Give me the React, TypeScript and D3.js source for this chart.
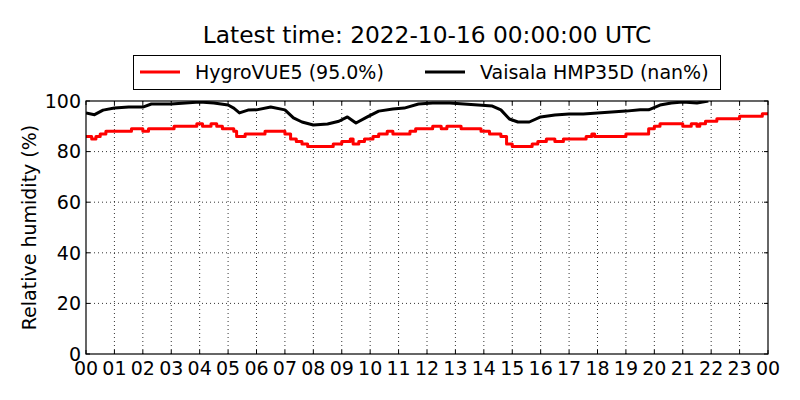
import {useEffect, useRef} from 'react';
import * as d3 from 'd3';

// hours of day and relative humidity (%)
const hygroHours = [0, 0.2, 0.35, 0.5, 0.7, 1.3, 1.6, 2.0, 2.2, 3.1, 3.9, 4.1, 4.4, 4.6, 4.8, 5.2, 5.3, 5.6, 6.3, 7.0, 7.2, 7.4, 7.6, 7.8, 8.7, 9.0, 9.3, 9.4, 9.6, 9.8, 10.1, 10.3, 10.6, 10.8, 11.4, 11.6, 12.2, 12.5, 12.7, 13.2, 13.9, 14.2, 14.6, 14.8, 15.0, 15.7, 15.9, 16.2, 16.5, 16.8, 17.6, 17.8, 17.9, 19.0, 19.6, 19.8, 20.0, 20.2, 21.0, 21.3, 21.5, 21.6, 21.8, 22.2, 23.0, 23.8, 24.0];
const hygroValues = [86, 85, 86, 87, 88, 88, 89, 88, 89, 90, 91, 90, 91, 90, 89, 88, 86, 87, 88, 87, 85, 84, 83, 82, 83, 84, 85, 83, 84, 85, 86, 87, 88, 87, 88, 89, 90, 89, 90, 89, 88, 87, 86, 83, 82, 83, 84, 85, 84, 85, 86, 87, 86, 87, 87, 89, 90, 91, 90, 91, 90, 91, 92, 93, 94, 95, 95];

const vaisalaHours = [0, 0.3, 0.6, 1.0, 1.5, 2.0, 2.3, 3.0, 3.5, 4.0, 4.5, 5.0, 5.2, 5.4, 5.7, 6.0, 6.5, 7.0, 7.3, 7.6, 8.0, 8.5, 8.9, 9.2, 9.5, 9.9, 10.3, 10.8, 11.2, 11.7, 12.2, 12.8, 13.3, 13.8, 14.3, 14.6, 14.9, 15.2, 15.6, 16.0, 16.5, 17.0, 17.5, 18.0, 18.5, 19.0, 19.5, 19.8, 20.2, 20.6, 21.0, 21.5, 21.9];
const vaisalaValues = [95.3, 94.6, 96.4, 97.2, 97.6, 97.6, 98.8, 98.8, 99.2, 99.6, 99.2, 98.4, 97.2, 95.3, 96.4, 96.5, 97.6, 96.5, 93.3, 91.7, 90.5, 90.9, 92.0, 93.7, 91.3, 93.7, 96.0, 96.8, 97.2, 98.8, 99.2, 99.2, 98.8, 98.4, 98.0, 96.5, 92.9, 91.7, 91.7, 93.7, 94.5, 94.9, 94.9, 95.3, 95.7, 96.0, 96.5, 96.5, 98.4, 99.2, 99.6, 99.2, 100];

const hourTicks = d3.range(0, 25);
const rhTicks = [0, 20, 40, 60, 80, 100];
const legendLabels = ['HygroVUE5 (95.0%)', 'Vaisala HMP35D (nan%)'];
const title = 'Latest time: 2022-10-16 00:00:00 UTC';

// layout
const width = 800;
const height = 400;
const left = 86;
const right = 768;
const top = 101;
const bottom = 354;
const lineWidth = 3;
const font = 'DejaVu Sans, sans-serif';

export default function App() {
  const ref = useRef<SVGSVGElement>(null);
  useEffect(() => {
    if (!ref.current) return;
    const svg = d3.select(ref.current);
    svg.selectAll('*').remove();

    const x = d3.scaleLinear().domain([0, 24]).range([left, right]);
    const y = d3.scaleLinear().domain([0, 100]).range([bottom, top]);

    // title
    svg.append('text')
      .attr('x', (left + right) / 2)
      .attr('y', 43)
      .attr('text-anchor', 'middle')
      .style('font-family', font)
      .style('font-size', '23.3px')
      .text(title);

    // grid
    const grid = svg.append('g')
      .attr('stroke', '#000')
      .attr('stroke-width', 0.8)
      .attr('stroke-dasharray', '1,3');
    hourTicks.slice(1, -1).forEach(h => {
      grid.append('line').attr('x1', x(h)).attr('x2', x(h)).attr('y1', top).attr('y2', bottom);
    });
    rhTicks.slice(1, -1).forEach(v => {
      grid.append('line').attr('x1', left).attr('x2', right).attr('y1', y(v)).attr('y2', y(v));
    });

    // clip
    svg.append('clipPath').attr('id', 'plot-clip')
      .append('rect').attr('x', left).attr('y', top)
      .attr('width', right - left).attr('height', bottom - top);

    const plot = svg.append('g').attr('clip-path', 'url(#plot-clip)');

    const hygroLine = d3.line<number>()
      .x((_, i) => x(hygroHours[i]))
      .y(d => y(d))
      .curve(d3.curveStepAfter);
    const vaisalaLine = d3.line<number>()
      .x((_, i) => x(vaisalaHours[i]))
      .y(d => y(d));

    plot.append('path')
      .attr('d', hygroLine(hygroValues))
      .attr('fill', 'none')
      .attr('stroke', '#ff0000')
      .attr('stroke-width', lineWidth)
      .attr('stroke-linejoin', 'round');
    plot.append('path')
      .attr('d', vaisalaLine(vaisalaValues))
      .attr('fill', 'none')
      .attr('stroke', '#000')
      .attr('stroke-width', lineWidth)
      .attr('stroke-linejoin', 'round');

    // frame
    svg.append('rect')
      .attr('x', left).attr('y', top)
      .attr('width', right - left).attr('height', bottom - top)
      .attr('fill', 'none').attr('stroke', '#000').attr('stroke-width', 1.2);

    // ticks (inward, all four sides)
    const ticks = svg.append('g').attr('stroke', '#000').attr('stroke-width', 1);
    hourTicks.forEach(h => {
      ticks.append('line').attr('x1', x(h)).attr('x2', x(h)).attr('y1', bottom).attr('y2', bottom - 4);
      ticks.append('line').attr('x1', x(h)).attr('x2', x(h)).attr('y1', top).attr('y2', top + 4);
    });
    rhTicks.forEach(v => {
      ticks.append('line').attr('x1', left).attr('x2', left + 4).attr('y1', y(v)).attr('y2', y(v));
      ticks.append('line').attr('x1', right).attr('x2', right - 4).attr('y1', y(v)).attr('y2', y(v));
    });

    // tick labels
    svg.append('g').selectAll('text').data(hourTicks).enter().append('text')
      .attr('x', d => x(d))
      .attr('y', bottom + 21)
      .attr('text-anchor', 'middle')
      .style('font-family', font)
      .style('font-size', '19px')
      .text(d => d3.format('02d')(d % 24));
    svg.append('g').selectAll('text').data(rhTicks).enter().append('text')
      .attr('x', left - 5)
      .attr('y', d => y(d))
      .attr('dy', '0.36em')
      .attr('text-anchor', 'end')
      .style('font-family', font)
      .style('font-size', '19px')
      .text(d => d);

    // y label
    svg.append('text')
      .attr('transform', `translate(36,${(top + bottom) / 2}) rotate(-90)`)
      .attr('text-anchor', 'middle')
      .style('font-family', font)
      .style('font-size', '19px')
      .text('Relative humidity (%)');

    // legend
    const legend = svg.append('g');
    legend.append('rect')
      .attr('x', 133.5).attr('y', 55.5)
      .attr('width', 587).attr('height', 34)
      .attr('fill', '#fff').attr('stroke', '#000').attr('stroke-width', 1);
    const entries = [
      {label: legendLabels[0], color: '#ff0000', x0: 140},
      {label: legendLabels[1], color: '#000', x0: 425},
    ];
    entries.forEach(e => {
      legend.append('line')
        .attr('x1', e.x0).attr('x2', e.x0 + 40)
        .attr('y1', 72).attr('y2', 72)
        .attr('stroke', e.color).attr('stroke-width', lineWidth);
      legend.append('text')
        .attr('x', e.x0 + 55).attr('y', 72)
        .attr('dy', '0.36em')
        .style('font-family', font)
        .style('font-size', '19px')
        .text(e.label);
    });
  }, []);
  return <svg
    ref={ref}
    width={width}
    height={height}
    style={{position: 'absolute', left: 0, top: 0, background: '#fff'}}
  />;
}
